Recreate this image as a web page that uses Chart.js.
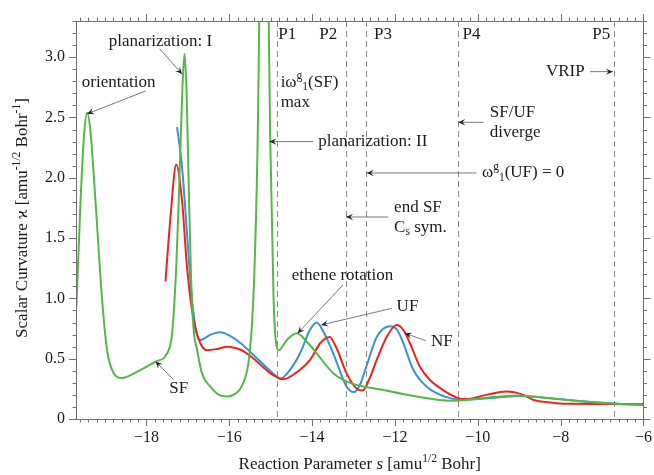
<!DOCTYPE html>
<html>
<head>
<meta charset="utf-8">
<script src="https://cdn.jsdelivr.net/npm/chart.js@4"></script>
<style>
  html, body { margin: 0; padding: 0; background: #fff; }
  #wrap { width: 654px; height: 475px; }
</style>
</head>
<body>
<div id="wrap"><canvas id="myChart" width="654" height="475"></canvas></div>
<script>
// reaction parameter s and scalar curvature for each path
const sSF = [-19.69, -19.59, -19.50, -19.43, -19.35, -19.23, -19.07, -18.95, -18.79, -18.59, -18.23, -17.78, -17.50, -17.38, -17.28, -17.22, -17.13, -17.08, -17.03, -16.97, -16.92, -16.86, -16.78, -16.66, -16.46, -16.25, -16.05, -15.85, -15.70, -15.54, -15.46, -15.40, -15.32, -15.16, -15.01, -14.93, -14.81, -14.60, -14.37, -14.10, -13.89, -13.49, -13.08, -12.28, -11.48, -10.67, -9.87, -9.07, -8.27, -7.46, -6.66, -6.00];
const kSF = [0.93, 1.81, 2.38, 2.54, 2.38, 1.81, 0.99, 0.57, 0.38, 0.34, 0.39, 0.476, 0.545, 0.71, 1.26, 1.81, 2.75, 3.03, 2.70, 1.81, 1.15, 0.74, 0.58, 0.38, 0.27, 0.20, 0.187, 0.21, 0.27, 0.46, 0.74, 1.15, 2.2, 6.0, 2.31, 0.99, 0.57, 0.66, 0.71, 0.63, 0.545, 0.38, 0.30, 0.24, 0.187, 0.151, 0.173, 0.195, 0.173, 0.145, 0.126, 0.118];

const sUF = [-17.26, -17.14, -17.02, -16.90, -16.78, -16.70, -16.45, -16.22, -15.98, -15.73, -15.25, -14.85, -14.77, -14.55, -14.29, -14.05, -13.89, -13.72, -13.49, -13.17, -12.99, -12.85, -12.69, -12.44, -12.12, -11.95, -11.80, -11.56, -11.24, -10.67, -10.27, -9.47, -9.00, -8.20, -7.40, -6.60, -6.00];
const kUF = [2.42, 2.09, 1.54, 0.99, 0.70, 0.655, 0.70, 0.72, 0.69, 0.63, 0.476, 0.35, 0.333, 0.40, 0.545, 0.74, 0.80, 0.72, 0.545, 0.27, 0.223, 0.28, 0.435, 0.68, 0.77, 0.74, 0.63, 0.41, 0.27, 0.173, 0.16, 0.18, 0.19, 0.17, 0.145, 0.126, 0.118];

const sNF = [-17.54, -17.42, -17.28, -17.14, -17.02, -16.86, -16.70, -16.54, -16.30, -16.05, -15.70, -15.41, -15.01, -14.69, -14.40, -14.05, -13.80, -13.58, -13.40, -13.17, -12.95, -12.78, -12.62, -12.44, -12.20, -11.96, -11.80, -11.64, -11.40, -11.16, -10.84, -10.47, -10.27, -9.80, -9.31, -8.90, -8.67, -8.20, -7.86, -7.00, -6.00];
const kNF = [1.14, 1.67, 2.11, 1.81, 1.26, 0.82, 0.63, 0.57, 0.58, 0.60, 0.57, 0.50, 0.38, 0.33, 0.38, 0.49, 0.63, 0.68, 0.58, 0.38, 0.26, 0.236, 0.33, 0.49, 0.68, 0.78, 0.74, 0.63, 0.435, 0.325, 0.24, 0.173, 0.165, 0.20, 0.228, 0.20, 0.16, 0.135, 0.126, 0.125, 0.122];

// tick labels
const xTicks = [-18, -16, -14, -12, -10, -8, -6];
const yTicks = [0, 0.5, 1.0, 1.5, 2.0, 2.5, 3.0];

// dashed lines at P1..P5 plus two more
const markerS = [-14.84, -13.19, -12.69, -10.49, -6.72];
const markerNames = ["P1", "P2", "P3", "P4", "P5"];
const markerLabelS = [-14.60, -13.61, -12.29, -10.15, -7.02];

const FONT = "'Liberation Serif', 'DejaVu Serif', serif";

// text labels: parts, anchor (data units), align
const notes = [
  { parts: [["orientation"]], s: -18.67, k: 2.79, align: "center" },
  { parts: [["planarization: I"]], s: -17.66, k: 3.13, align: "center" },
  { parts: [["iω"], ["g", "sup"], ["1", "sub"], ["(SF)"]], s: -14.76, k: 2.79, align: "left" },
  { parts: [["max"]], s: -14.76, k: 2.625, align: "left" },
  { parts: [["planarization: II"]], s: -13.85, k: 2.30, align: "left" },
  { parts: [["SF/UF"]], s: -9.71, k: 2.54, align: "left" },
  { parts: [["diverge"]], s: -9.71, k: 2.377, align: "left" },
  { parts: [["VRIP"]], s: -7.42, k: 2.88, align: "right" },
  { parts: [["ω"], ["g", "sup"], ["1", "sub"], ["(UF) = 0"]], s: -9.90, k: 2.04, align: "left" },
  { parts: [["end SF"]], s: -12.02, k: 1.75, align: "left" },
  { parts: [["C"], ["s", "sub"], [" sym."]], s: -12.02, k: 1.59, align: "left" },
  { parts: [["ethene rotation"]], s: -14.49, k: 1.19, align: "left" },
  { parts: [["UF"]], s: -11.96, k: 0.93, align: "left" },
  { parts: [["NF"]], s: -11.13, k: 0.64, align: "left" },
  { parts: [["SF"]], s: -17.22, k: 0.256, align: "center" },
];

// arrows: from (s,k) to (s,k)
const arrows = [
  [-18.02, 2.72, -19.43, 2.53],
  [-17.68, 3.07, -17.14, 2.86],
  [-13.98, 2.30, -15.03, 2.30],
  [-9.86, 2.46, -10.47, 2.46],
  [-7.29, 2.88, -6.74, 2.88],
  [-10.03, 2.04, -12.68, 2.04],
  [-12.16, 1.675, -13.18, 1.675],
  [-13.26, 1.11, -14.35, 0.71],
  [-12.08, 0.917, -13.78, 0.78],
  [-11.26, 0.65, -11.76, 0.71],
  [-17.34, 0.325, -17.78, 0.476],
];

function toXY(s, k) {
  return s.map((v, i) => ({ x: v, y: k[i] }));
}

function drawRich(ctx, parts, x, y, align, size) {
  const pieces = parts.map(([t, mode]) => {
    const small = mode === "sup" || mode === "sub";
    const fs = small ? size * 0.68 : size;
    const it = mode === "it";
    ctx.font = (it ? "italic " : "") + fs + "px " + FONT;
    return { t, mode, fs, it, w: ctx.measureText(t).width };
  });
  const total = pieces.reduce((a, p) => a + p.w, 0);
  let cx = align === "center" ? x - total / 2 : align === "right" ? x - total : x;
  ctx.textAlign = "left";
  ctx.textBaseline = "middle";
  pieces.forEach((p) => {
    ctx.font = (p.it ? "italic " : "") + p.fs + "px " + FONT;
    let dy = 0;
    if (p.mode === "sup") dy = -size * 0.38;
    if (p.mode === "sub") dy = size * 0.28;
    ctx.fillText(p.t, cx, y + dy);
    cx += p.w;
  });
}

function arrowHead(ctx, x0, y0, x1, y1) {
  const ang = Math.atan2(y1 - y0, x1 - x0);
  const L = 7, W = 3.2;
  ctx.save();
  ctx.translate(x1, y1);
  ctx.rotate(ang);
  ctx.beginPath();
  ctx.moveTo(0, 0);
  ctx.lineTo(-L, -W);
  ctx.lineTo(-L * 0.6, 0);
  ctx.lineTo(-L, W);
  ctx.closePath();
  ctx.fill();
  ctx.restore();
}

const decorations = {
  id: "decorations",
  beforeDatasetsDraw(chart) {
    const { ctx, chartArea: a, scales: { x } } = chart;
    ctx.save();
    ctx.strokeStyle = "#8c8c8c";
    ctx.lineWidth = 1;
    ctx.setLineDash([6, 4]);
    markerS.forEach((m) => {
      const px = Math.round(x.getPixelForValue(m)) + 0.5;
      ctx.beginPath();
      ctx.moveTo(px, a.top);
      ctx.lineTo(px, a.bottom);
      ctx.stroke();
    });
    ctx.restore();
  },
  afterDraw(chart) {
    const { ctx, chartArea: a, scales: { x, y } } = chart;
    ctx.save();
    // frame
    ctx.strokeStyle = "#707070";
    ctx.lineWidth = 1;
    ctx.strokeRect(Math.round(a.left) + 0.5, Math.round(a.top) + 0.5, Math.round(a.right - a.left), Math.round(a.bottom - a.top));

    // minor and major ticks, pointing out
    ctx.beginPath();
    for (let i = -98; i <= -30; i++) {
      const v = i * 0.2;
      const major = i % 10 === 0;
      const len = major ? 7 : 3.5;
      const px = Math.round(x.getPixelForValue(v)) + 0.5;
      ctx.moveTo(px, a.bottom);
      ctx.lineTo(px, a.bottom + len);
      ctx.moveTo(px, a.top);
      ctx.lineTo(px, a.top - len);
    }
    for (let i = 0; i <= 33; i++) {
      const v = i * 0.1;
      const major = i % 5 === 0;
      const len = major ? 7 : 3.5;
      const py = Math.round(y.getPixelForValue(v)) + 0.5;
      ctx.moveTo(a.left, py);
      ctx.lineTo(a.left - len, py);
      ctx.moveTo(a.right, py);
      ctx.lineTo(a.right + len, py);
    }
    ctx.stroke();

    ctx.fillStyle = "#1a1a1a";
    // P labels
    const topY = y.getPixelForValue(3.19);
    markerNames.forEach((n, i) => {
      drawRich(ctx, [[n]], x.getPixelForValue(markerLabelS[i]), topY, "center", 17);
    });

    notes.forEach((nt) => {
      drawRich(ctx, nt.parts, x.getPixelForValue(nt.s), y.getPixelForValue(nt.k), nt.align, 17);
    });

    // arrows
    ctx.strokeStyle = "#555";
    ctx.fillStyle = "#222";
    ctx.lineWidth = 0.8;
    arrows.forEach(([s0, k0, s1, k1]) => {
      const x0 = x.getPixelForValue(s0), y0 = y.getPixelForValue(k0);
      const x1 = x.getPixelForValue(s1), y1 = y.getPixelForValue(k1);
      ctx.beginPath();
      ctx.moveTo(x0, y0);
      ctx.lineTo(x1, y1);
      ctx.stroke();
      arrowHead(ctx, x0, y0, x1, y1);
    });

    // axis titles
    ctx.fillStyle = "#1a1a1a";
    drawRich(ctx, [["Reaction Parameter "], ["s", "it"], [" [amu"], ["1/2", "sup"], [" Bohr]"]], (a.left + a.right) / 2, 465, "center", 17);
    ctx.save();
    ctx.translate(23, (a.top + a.bottom) / 2 - 2);
    ctx.rotate(-Math.PI / 2);
    drawRich(ctx, [["Scalar Curvature ϰ [amu"], ["-1/2", "sup"], [" Bohr"], ["-1", "sup"], ["]"]], 0, 0, "center", 17);
    ctx.restore();
    ctx.restore();
  },
};

const lineStyle = {
  borderWidth: 2,
  pointRadius: 0,
  fill: false,
  cubicInterpolationMode: "monotone",
};

const data = {
  datasets: [
    { label: "SF", data: toXY(sSF, kSF), borderColor: "rgb(84, 184, 72)", order: 0, ...lineStyle },
    { label: "NF", data: toXY(sNF, kNF), borderColor: "rgb(232, 38, 32)", order: 1, ...lineStyle },
    { label: "UF", data: toXY(sUF, kUF), borderColor: "rgb(58, 146, 210)", order: 2, ...lineStyle },
  ],
};

const config = {
  type: "line",
  data: data,
  options: {
    responsive: false,
    animation: false,
    devicePixelRatio: 1,
    layout: { padding: { top: 21, right: 10, left: 0, bottom: 0 } },
    plugins: { legend: { display: false }, tooltip: { enabled: false } },
    scales: {
      x: {
        type: "linear",
        min: -19.7,
        max: -6,
        afterBuildTicks: (s) => { s.ticks = xTicks.map((v) => ({ value: v })); },
        afterFit: (s) => { s.height = 56; },
        grid: { display: false, drawTicks: true, tickLength: 7 },
        border: { display: false },
        ticks: {
          autoSkip: false,
          maxRotation: 0,
          padding: 2,
          color: "#1a1a1a",
          font: { family: FONT, size: 16 },
          callback: (v) => (v < 0 ? "\u2212" + Math.abs(v) : String(v)),
        },
      },
      y: {
        min: 0,
        max: 3.3,
        afterBuildTicks: (s) => { s.ticks = yTicks.map((v) => ({ value: v })); },
        afterFit: (s) => { s.width = 76; },
        grid: { display: false, drawTicks: true, tickLength: 7 },
        border: { display: false },
        ticks: {
          padding: 4,
          color: "#1a1a1a",
          font: { family: FONT, size: 16 },
          callback: (v) => (v === 0 ? "0" : v.toFixed(1)),
        },
      },
    },
  },
  plugins: [decorations],
};

new Chart(document.getElementById("myChart"), config);
</script>
</body>
</html>
